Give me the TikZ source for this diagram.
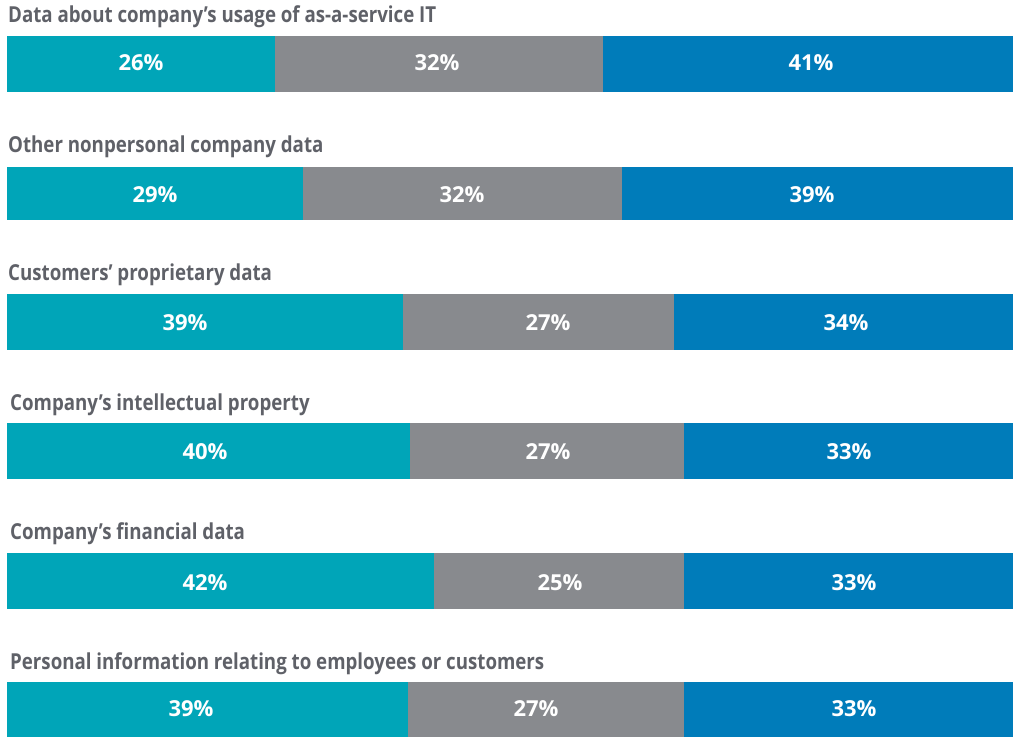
\documentclass[tikz,border=0pt]{standalone}
\usepackage{fontspec}
\setmainfont{Open Sans}[BoldFont={* Bold}]
\newfontfamily\titlefont{Open Sans}[FakeStretch=0.85,UprightFont={* Bold}]
\newfontfamily\pctfont{Open Sans}[UprightFont={* Bold}]
\definecolor{cteal}{HTML}{00A5B8}
\definecolor{cgrey}{HTML}{888A8E}
\definecolor{cblue}{HTML}{007CBA}
\definecolor{ctitle}{HTML}{5F6168}
\tikzset{
  seg/.style={rectangle, inner sep=0pt, outer sep=0pt, anchor=north west},
  pct/.style={anchor=base, inner sep=0pt, text=white, font=\pctfont\fontsize{22}{22}\selectfont},
  ttl/.style={anchor=base west, inner sep=0pt, text=ctitle, font=\titlefont\fontsize{22}{22}\selectfont},
}
% #1 row name, #2 title x, #3 title baseline, #4 title, #5 top, #6 height, #7 x1, #8 x2
\newcommand{\barrow}[8]{%
  \node[ttl] (#1t) at (#2,#3) {#4};
  \pgfmathsetmacro{\wa}{#7-7}\pgfmathsetmacro{\wb}{#8-#7}\pgfmathsetmacro{\wc}{1013-#8}%
  \node[seg, fill=cteal, minimum width=\wa pt, minimum height=#6pt] (#1a) at (7,#5) {};
  \node[seg, fill=cgrey, minimum width=\wb pt, minimum height=#6pt] (#1b) at (#7,#5) {};
  \node[seg, fill=cblue, minimum width=\wc pt, minimum height=#6pt] (#1c) at (#8,#5) {};
}
% #1 row name, #2 baseline, #3 list value/x
\newcommand{\barlabels}[3]{%
  \foreach \v/\xx [count=\i] in {#3}{%
    \node[pct] (#1l\i) at (\xx,#2) {\v\%};
  }%
}
\begin{document}
\begin{tikzpicture}[x=1pt,y=-1pt]
\useasboundingbox (0,0) rectangle (1013,737);
\barrow{r1}{8}{22.7}{Data about company’s usage of as-a-service IT}{36}{56}{275}{603}
\barlabels{r1}{70}{26/141,32/437,41/811}
\barrow{r2}{8}{152}{Other nonpersonal company data}{167}{53}{303}{622}
\barlabels{r2}{202.7}{29/155,32/462,39/812}
\barrow{r3}{8}{280}{Customers’ proprietary data}{294}{56}{403}{674}
\barlabels{r3}{330.7}{39/185,27/548,34/846}
\barrow{r4}{10}{410}{Company’s intellectual property}{423}{56}{410}{684}
\barlabels{r4}{459.5}{40/205,27/548,33/849}
\barrow{r5}{10}{539}{Company’s financial data}{553}{56}{434}{684}
\barlabels{r5}{590.3}{42/205,25/560,33/854}
\barrow{r6}{10}{669}{Personal information relating to employees or customers}{682}{55}{408}{684}
\barlabels{r6}{716.3}{39/191,27/536,33/854}
\end{tikzpicture}
\end{document}
